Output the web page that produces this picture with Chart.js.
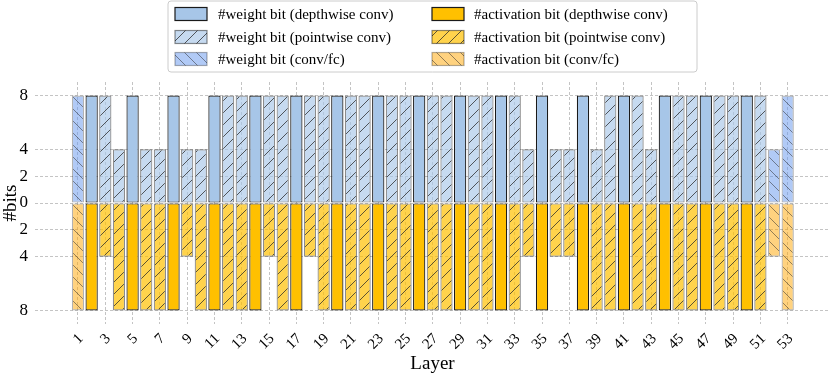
<!DOCTYPE html>
<html><head><meta charset="utf-8">
<script src="https://cdn.jsdelivr.net/npm/chart.js@4.4.0/dist/chart.umd.min.js"></script>
<style>html,body{margin:0;padding:0;background:#fff}#wrap{width:830px;height:375px;position:relative}</style>
</head><body><div id="wrap"><canvas id="c"></canvas></div>
<script>
const layers = [1,2,3,4,5,6,7,8,9,10,11,12,13,14,15,16,17,18,19,20,21,22,23,24,25,26,27,28,29,30,31,32,33,34,35,36,37,38,39,40,41,42,43,44,45,46,47,48,49,50,51,52,53];
const layerTypes = ['conv','dw','pw',
  'pw','dw','pw','pw','dw','pw','pw','dw','pw','pw','dw','pw','pw','dw','pw','pw','dw','pw',
  'pw','dw','pw','pw','dw','pw','pw','dw','pw','pw','dw','pw','pw','dw','pw','pw','dw','pw',
  'pw','dw','pw','pw','dw','pw','pw','dw','pw','pw','dw','pw','conv','conv'];
const weightBits = [8,8,8,4,8,4,4,8,4,4, 8,8,8,8,8,8,8,8,8,8, 8,8,8,8,8,8,8,8,8,8, 8,8,8,4,8,4,4,8,4,8, 8,8,4,8,8,8,8,8,8,8, 8,4,8];
const actBits    = [8,8,4,8,8,8,8,8,4,8, 8,8,8,8,4,8,8,4,8,8, 8,8,8,8,8,8,8,8,8,8, 8,8,8,4,8,4,4,8,8,8, 8,8,8,8,8,8,8,8,8,8, 8,4,8];
const xTickValues = [1,3,5,7,9,11,13,15,17,19,21,23,25,27,29,31,33,35,37,39,41,43,45,47,49,51,53];
const yTickValues = [-8,-4,-2,0,2,4,8];
const legendLabels = ['#weight bit (depthwise conv)','#activation bit (depthwise conv)',
  '#weight bit (pointwise conv)','#activation bit (pointwise conv)',
  '#weight bit (conv/fc)','#activation bit (conv/fc)'];

const SERIF = "'Liberation Serif', 'DejaVu Serif', serif";

function hatch(base, line, dir) {
  const s = 12, t = document.createElement('canvas');
  t.width = s; t.height = s;
  const g = t.getContext('2d');
  g.fillStyle = base; g.fillRect(0,0,s,s);
  g.strokeStyle = line; g.lineWidth = 1;
  g.beginPath();
  if (dir === '/') {
    g.moveTo(0,s); g.lineTo(s,0);
    g.moveTo(-2,2); g.lineTo(2,-2);
    g.moveTo(s-2,s+2); g.lineTo(s+2,s-2);
  } else {
    g.moveTo(0,0); g.lineTo(s,s);
    g.moveTo(-2,s-2); g.lineTo(2,s+2);
    g.moveTo(s-2,-2); g.lineTo(s+2,2);
  }
  g.stroke();
  return g.createPattern(t,'repeat');
}

const styles = {
  w_dw:   {bg:'#a7c6e8', border:'#1a1a1a'},
  a_dw:   {bg:'#ffc000', border:'#1a1a1a'},
  w_pw:   {bg:hatch('rgba(167,198,232,0.65)','rgba(40,40,40,0.75)','/'), border:'rgba(0,0,0,0.45)'},
  a_pw:   {bg:hatch('rgba(255,192,0,0.7)','rgba(40,40,40,0.75)','/'), border:'rgba(0,0,0,0.45)'},
  w_conv: {bg:hatch('rgba(100,149,237,0.5)','rgba(40,40,40,0.5)','\\'), border:'rgba(0,0,0,0.3)'},
  a_conv: {bg:hatch('rgba(255,165,0,0.5)','rgba(40,40,40,0.5)','\\'), border:'rgba(0,0,0,0.3)'}
};

function pts(type, vals, sign) {
  const out = [];
  layers.forEach((l,i)=>{ if (layerTypes[i]===type) out.push({x:l, y:sign*vals[i]}); });
  return out;
}
function ds(key, type, vals, sign, label) {
  return {label, data: pts(type, vals, sign), backgroundColor: styles[key].bg,
    borderColor: styles[key].border, borderWidth: 1.2, borderSkipped: false,
    grouped: false, categoryPercentage: 1.0, barPercentage: 0.9};
}
const datasets = [
  ds('w_dw','dw',weightBits,1,legendLabels[0]),
  ds('a_dw','dw',actBits,-1,legendLabels[1]),
  ds('w_pw','pw',weightBits,1,legendLabels[2]),
  ds('a_pw','pw',actBits,-1,legendLabels[3]),
  ds('w_conv','conv',weightBits,1,legendLabels[4]),
  ds('a_conv','conv',actBits,-1,legendLabels[5])
];

const legendPlugin = {
  id:'boxLegend',
  afterDraw(chart) {
    const ctx = chart.ctx;
    ctx.save();
    const bx=168, by=1, bw=529, bh=71, r=3;
    ctx.beginPath();
    ctx.moveTo(bx+r,by); ctx.lineTo(bx+bw-r,by); ctx.quadraticCurveTo(bx+bw,by,bx+bw,by+r);
    ctx.lineTo(bx+bw,by+bh-r); ctx.quadraticCurveTo(bx+bw,by+bh,bx+bw-r,by+bh);
    ctx.lineTo(bx+r,by+bh); ctx.quadraticCurveTo(bx,by+bh,bx,by+bh-r);
    ctx.lineTo(bx,by+r); ctx.quadraticCurveTo(bx,by,bx+r,by);
    ctx.closePath();
    ctx.fillStyle='rgba(255,255,255,0.9)'; ctx.fill();
    ctx.strokeStyle='#cccccc'; ctx.lineWidth=1; ctx.stroke();
    const colX=[175,432], textX=[218,474], rowY=[14,37,59];
    chart.data.datasets.forEach((d,i)=>{
      const c=i%2, rw=Math.floor(i/2);
      const sx=colX[c], sy=rowY[rw]-6.5, sw=32, sh=13;
      ctx.fillStyle='#fff'; ctx.fillRect(sx,sy,sw,sh);
      ctx.fillStyle=d.backgroundColor; ctx.fillRect(sx,sy,sw,sh);
      ctx.strokeStyle=d.borderColor; ctx.lineWidth=1.2; ctx.strokeRect(sx,sy,sw,sh);
      ctx.fillStyle='#000'; ctx.font="15px "+SERIF; ctx.textBaseline='middle'; ctx.textAlign='left';
      ctx.fillText(d.label, textX[c], rowY[rw]+1);
    });
    ctx.restore();
  }
};

new Chart(document.getElementById('c'), {
  type:'bar',
  data:{datasets},
  plugins:[legendPlugin],
  options:{
    responsive:true, maintainAspectRatio:false, animation:false,
    layout:{padding:{top:82,left:0,right:0,bottom:0}},
    plugins:{legend:{display:false}, tooltip:{enabled:false}},
    scales:{
      x:{type:'linear', min:-2.15, max:56.1, offset:false,
        afterBuildTicks(s){ s.ticks = xTickValues.map(v=>({value:v})); },
        afterFit(s){ s.height = 51; },
        grid:{color:'#b5b5b5', lineWidth:0.8, drawTicks:false, offset:false},
        border:{display:false, dash:[3,2]},
        ticks:{autoSkip:false, minRotation:45, maxRotation:45, color:'#000', padding:6, labelOffset:3,
          font:{family:SERIF, size:15}, callback:(v)=>String(v)},
        title:{display:true, text:'Layer', color:'#000', font:{family:SERIF, size:19}, padding:{top:0,bottom:0}}
      },
      y:{min:-9, max:9,
        afterBuildTicks(s){ s.ticks = yTickValues.map(v=>({value:v})); },
        afterFit(s){ s.width = 35; },
        grid:{color:'#b5b5b5', lineWidth:0.8, drawTicks:false},
        border:{display:false, dash:[3,2]},
        ticks:{color:'#000', padding:7, font:{family:SERIF, size:17}, callback:(v)=>String(Math.abs(v))},
        title:{display:true, text:'#bits', color:'#000', font:{family:SERIF, size:19}, padding:{top:0,bottom:0}}
      }
    }
  }
});
</script>
</body></html>
